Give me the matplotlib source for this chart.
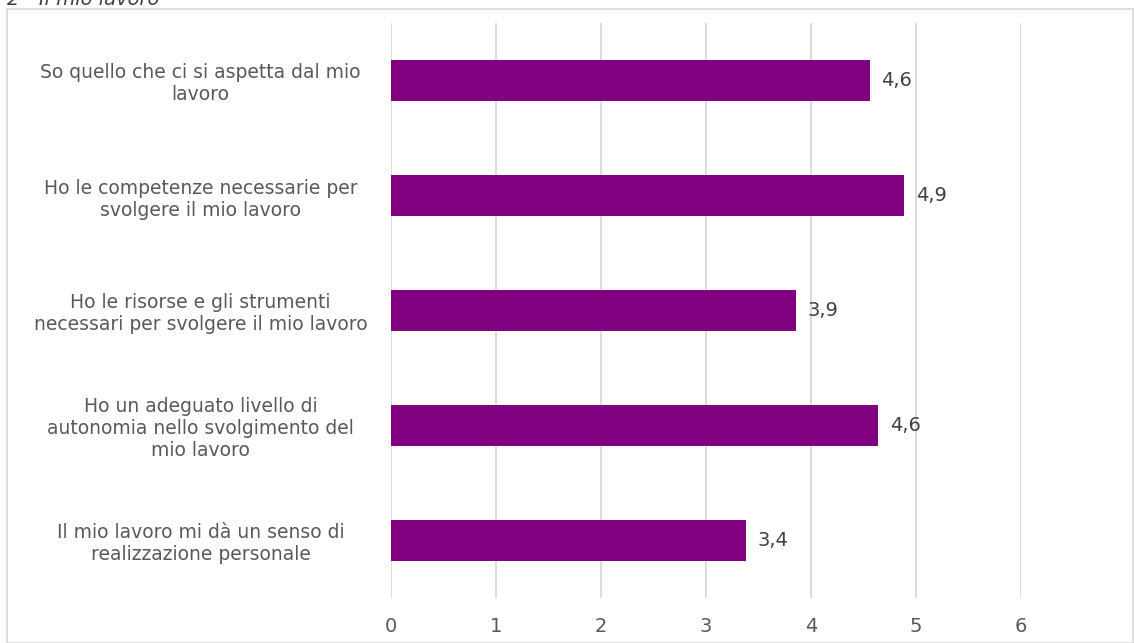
import matplotlib
matplotlib.use("Agg")
import matplotlib.pyplot as plt
from matplotlib.patches import Rectangle

categories = [
    "So quello che ci si aspetta dal mio\nlavoro",
    "Ho le competenze necessarie per\nsvolgere il mio lavoro",
    "Ho le risorse e gli strumenti\nnecessari per svolgere il mio lavoro",
    "Ho un adeguato livello di\nautonomia nello svolgimento del\nmio lavoro",
    "Il mio lavoro mi dà un senso di\nrealizzazione personale",
]
values = [4.56, 4.89, 3.86, 4.64, 3.38]
value_labels = ["4,6", "4,9", "3,9", "4,6", "3,4"]
xticks = [0, 1, 2, 3, 4, 5, 6]
title = "2 - Il mio lavoro"

W, H = 1134, 643
fig = plt.figure(figsize=(W / 100, H / 100), dpi=100)
fig.patch.set_facecolor("white")

# chart frame
fig.patches.append(Rectangle((7 / W, 0), (1133 - 7) / W, 1 - 9 / H,
                             transform=fig.transFigure, fill=False,
                             edgecolor="#d9d9d9", linewidth=1.2))
fig.text(7 / W, 1 - 5 / H, title, fontsize=14, style="italic",
         color="#404040", va="baseline", ha="left")

ax = fig.add_axes([391 / W, (H - 598) / H, (1021 - 391) / W, (598 - 23) / H])
ypos = list(range(len(categories)))
ax.barh(ypos, values, height=0.36, color="#800080", zorder=3)
ax.set_ylim(len(categories) - 0.5, -0.5)
ax.set_xlim(0, 6)
ax.set_xticks(xticks)
ax.set_xticklabels([str(t) for t in xticks])
ax.set_yticks(ypos)
ax.set_yticklabels(categories, ha="center", linespacing=1.2)
ax.tick_params(axis="y", length=0, pad=137, labelsize=13.5, labelcolor="#595959")
ax.tick_params(axis="x", length=0, pad=14, labelsize=14, labelcolor="#595959")
ax.grid(axis="x", color="#d9d9d9", linewidth=1.3, zorder=0)
for s in ax.spines.values():
    s.set_visible(False)

for y, v, lab in zip(ypos, values, value_labels):
    ax.text(v + 0.11, y, lab, va="center", ha="left", fontsize=14,
            color="#404040", clip_on=False)

fig.savefig("out.png", dpi=100)
